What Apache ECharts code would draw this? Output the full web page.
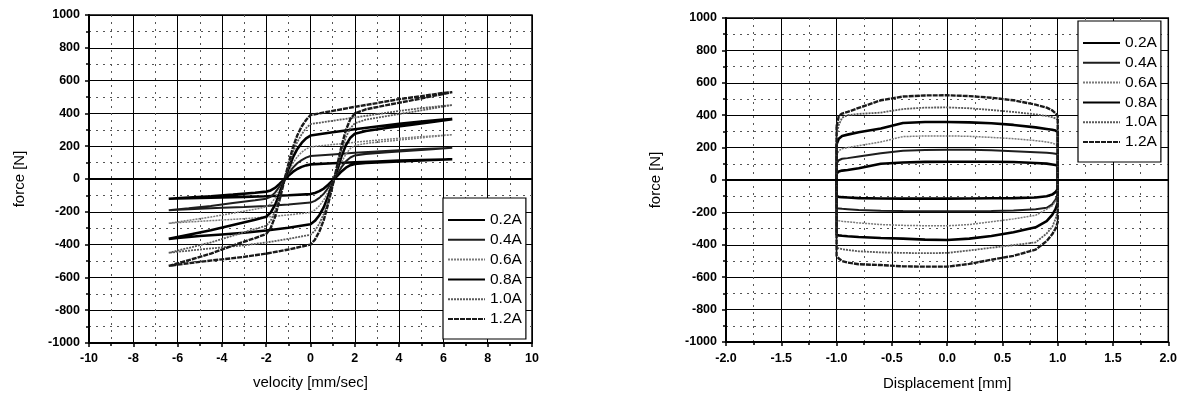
<!DOCTYPE html>
<html>
<head>
<meta charset="utf-8">
<script src="https://cdn.jsdelivr.net/npm/echarts@6.0.0/dist/echarts.min.js"></script>
<style>
  html, body { margin: 0; padding: 0; background: #fff; }
  #chart { width: 1180px; height: 396px; }
</style>
</head>
<body>
<div id="chart"></div>
<script>
const currents = ["0.2A", "0.4A", "0.6A", "0.8A", "1.0A", "1.2A"];

// force vs velocity: branch with rising velocity, then falling velocity
const velUp = [-6.4, -5.5, -4.5, -3.5, -2.5, -2.0, -1.8, -1.6, -1.4, -1.2, -1.0, -0.8, -0.6, -0.4, -0.2, 0, 1, 2, 3, 4, 5, 6, 6.4];
const velDown = [6.4, 5.5, 4.5, 3.5, 2.5, 2.0, 1.8, 1.6, 1.4, 1.2, 1.0, 0.8, 0.6, 0.4, 0.2, 0, -1, -2, -3, -4, -5, -6, -6.4];

const fvUp02 = [-120, -113, -105, -95, -84, -77, -70, -54, -30, -4, 20, 43, 61, 74, 83, 89, 96, 102, 107, 112, 116, 119, 120];
const fvUp04 = [-190, -178, -164, -147, -130, -120, -108, -83, -47, -6, 32, 68, 96, 115, 130, 140, 150, 160, 168, 176, 183, 188, 190];
const fvUp06 = [-270, -252, -232, -208, -184, -170, -152, -117, -66, -8, 45, 95, 135, 163, 183, 196, 210, 224, 237, 248, 258, 267, 270];
const fvUp08 = [-365, -340, -312, -280, -248, -230, -205, -158, -90, -12, 60, 130, 182, 220, 248, 265, 285, 303, 320, 336, 350, 362, 365];
const fvUp10 = [-450, -420, -387, -345, -305, -285, -255, -195, -110, -15, 75, 160, 225, 272, 310, 335, 355, 375, 395, 415, 432, 446, 451];
const fvUp12 = [-530, -495, -455, -405, -360, -335, -300, -230, -130, -20, 90, 190, 265, 320, 360, 390, 415, 440, 463, 487, 505, 525, 530];

const fvDown02 = [120, 116, 110, 104, 98, 92, 84, 69, 46, 18, -9, -35, -58, -74, -85, -92, -99, -105, -109, -113, -116, -119, -120];
const fvDown04 = [190, 182, 172, 163, 153, 144, 131, 108, 72, 29, -14, -54, -90, -115, -133, -144, -155, -164, -171, -176, -182, -187, -190];
const fvDown06 = [270, 258, 244, 231, 217, 204, 186, 153, 102, 41, -20, -77, -128, -163, -189, -204, -219, -232, -242, -250, -258, -266, -270];
const fvDown08 = [365, 348, 330, 312, 293, 276, 252, 207, 138, 55, -28, -104, -172, -221, -255, -276, -297, -314, -328, -338, -348, -360, -365];
const fvDown10 = [451, 430, 407, 385, 362, 340, 310, 255, 170, 68, -34, -128, -212, -272, -315, -340, -365, -387, -404, -417, -430, -444, -450];
const fvDown12 = [530, 505, 478, 452, 425, 400, 365, 300, 200, 80, -40, -150, -250, -320, -370, -400, -430, -455, -475, -490, -505, -522, -530];

// force vs displacement: stroke to +1 mm, then back to -1 mm
const dispUp = [-1.0, -0.98, -0.95, -0.9, -0.8, -0.6, -0.4, -0.2, 0, 0.2, 0.4, 0.6, 0.8, 0.9, 0.95, 0.98, 1.0];
const dispDown = [1.0, 0.98, 0.95, 0.9, 0.8, 0.6, 0.4, 0.2, 0, -0.2, -0.4, -0.6, -0.8, -0.9, -0.95, -0.98, -1.0];

const fdUp02 = [40, 52, 58, 62, 72, 100, 108, 112, 113, 113, 113, 111, 105, 101, 96, 92, 88];
const fdUp04 = [100, 122, 131, 135, 145, 165, 180, 185, 187, 186, 183, 178, 172, 168, 165, 162, 158];
const fdUp06 = [150, 180, 193, 200, 212, 235, 268, 272, 272, 270, 263, 255, 243, 235, 228, 220, 210];
const fdUp08 = [220, 255, 272, 280, 295, 318, 352, 358, 358, 356, 350, 340, 325, 315, 310, 305, 298];
const fdUp10 = [280, 340, 385, 400, 408, 416, 438, 447, 448, 443, 432, 420, 405, 395, 388, 380, 372];
const fdUp12 = [330, 395, 410, 420, 445, 492, 515, 522, 523, 518, 508, 492, 465, 447, 430, 412, 395];

const fdDown02 = [-55, -75, -90, -100, -108, -112, -113, -114, -115, -115, -115, -114, -112, -108, -106, -104, -100];
const fdDown04 = [-90, -120, -150, -172, -180, -188, -192, -193, -193, -193, -192, -190, -185, -180, -178, -176, -175];
const fdDown06 = [-100, -130, -160, -180, -218, -240, -258, -275, -283, -282, -280, -275, -265, -258, -255, -252, -250];
const fdDown08 = [-140, -180, -215, -254, -292, -322, -346, -362, -370, -368, -362, -358, -352, -347, -344, -342, -340];
const fdDown10 = [-190, -240, -290, -330, -385, -402, -418, -435, -450, -452, -450, -447, -440, -432, -427, -422, -418];
const fdDown12 = [-260, -300, -335, -377, -430, -468, -492, -518, -535, -535, -533, -525, -520, -510, -500, -485, -468];

const fvLoops = [[fvUp02, fvDown02], [fvUp04, fvDown04], [fvUp06, fvDown06], [fvUp08, fvDown08], [fvUp10, fvDown10], [fvUp12, fvDown12]];
const fdLoops = [[fdUp02, fdDown02], [fdUp04, fdDown04], [fdUp06, fdDown06], [fdUp08, fdDown08], [fdUp10, fdDown10], [fdUp12, fdDown12]];

const lineLooks = [
  { color: "#000000", width: 2.6, type: "solid" },
  { color: "#1e1e1e", width: 2, type: "solid" },
  { color: "#7a7a7a", width: 1.5, type: [2, 1] },
  { color: "#000000", width: 2.6, type: "solid" },
  { color: "#5a5a5a", width: 1.8, type: [2, 1] },
  { color: "#1a1a1a", width: 2.4, type: [5, 1] },
];

const FONT = "'Liberation Sans', Arial, sans-serif";

function loop(xUp, yUp, xDown, yDown) {
  const pts = xUp.map((x, i) => [x, yUp[i]]);
  xDown.forEach((x, i) => pts.push([x, yDown[i]]));
  pts.push(pts[0]);
  return pts;
}

function makeX(gridIndex, min, max, interval, name, nameGap, labelMargin, digits) {
  return {
    type: "value",
    gridIndex,
    min, max, interval,
    name,
    nameLocation: "middle",
    nameGap,
    nameTextStyle: { fontFamily: FONT, fontSize: 15, color: "#000" },
    axisLine: { show: true, onZero: false, lineStyle: { color: "#000", width: 2 } },
    axisTick: { show: true, inside: false, length: 4, lineStyle: { color: "#000", width: 1.5 } },
    minorTick: { show: true, splitNumber: 2, length: 3, lineStyle: { color: "#000", width: 1.5 } },
    axisLabel: {
      margin: labelMargin,
      fontFamily: FONT, fontSize: 12.5, fontWeight: "bold", color: "#000",
      formatter: (v) => (digits ? v.toFixed(digits) : String(v)),
    },
    splitLine: { show: true, lineStyle: { color: "#000", width: 1 } },
    minorSplitLine: { show: true, lineStyle: { color: "#555", width: 1, type: [2, 5] } },
  };
}

function makeY(gridIndex, nameGap) {
  return {
    type: "value",
    gridIndex,
    min: -1000, max: 1000, interval: 200,
    name: "force [N]",
    nameLocation: "middle",
    nameGap,
    nameTextStyle: { fontFamily: FONT, fontSize: 15, color: "#000" },
    axisLine: { show: true, onZero: false, lineStyle: { color: "#000", width: 2 } },
    axisTick: { show: true, inside: false, length: 4, lineStyle: { color: "#000", width: 1.5 } },
    minorTick: { show: true, splitNumber: 2, length: 3, lineStyle: { color: "#000", width: 1.5 } },
    axisLabel: {
      margin: 9, fontFamily: FONT, fontSize: 12.5, fontWeight: "bold", color: "#000",
      formatter: (v) => String(v),
    },
    splitLine: { show: true, lineStyle: { color: "#000", width: 1 } },
    minorSplitLine: { show: true, lineStyle: { color: "#555", width: 1, type: [2, 5] } },
  };
}

function makeLegend(left, top) {
  return {
    left, top,
    orient: "vertical",
    data: currents,
    itemWidth: 37,
    itemHeight: 14,
    itemGap: 3.8,
    padding: [14, 4, 12, 4],
    backgroundColor: "#fff",
    borderColor: "#000",
    borderWidth: 1.2,
    borderRadius: 0,
    itemStyle: { opacity: 0 },
    textStyle: { fontFamily: FONT, fontSize: 15.5, color: "#000" },
  };
}

const series = [];
currents.forEach((name, i) => {
  const look = lineLooks[i];
  const [up, down] = fvLoops[i];
  series.push({
    name, type: "line", xAxisIndex: 0, yAxisIndex: 0,
    data: loop(velUp, up, velDown, down),
    symbol: "none", smooth: false, z: 3,
    color: look.color,
    lineStyle: { color: look.color, width: look.width, type: look.type },
  });
});
currents.forEach((name, i) => {
  const look = lineLooks[i];
  const [up, down] = fdLoops[i];
  series.push({
    name, type: "line", xAxisIndex: 1, yAxisIndex: 1,
    data: loop(dispUp, up, dispDown, down),
    symbol: "none", smooth: false, z: 3,
    color: look.color,
    lineStyle: { color: look.color, width: look.width, type: look.type },
  });
});

// heavier zero-force lines, as in the plots
[0, 1].forEach((k) => {
  series.push({
    type: "line", xAxisIndex: k, yAxisIndex: k, data: [], silent: true, z: 2,
    markLine: {
      silent: true, symbol: "none", label: { show: false },
      lineStyle: { color: "#000", width: 2, type: "solid" },
      data: [{ yAxis: 0 }],
    },
  });
});

const chart = echarts.init(document.getElementById("chart"), null, { renderer: "canvas" });
chart.setOption({
  animation: false,
  backgroundColor: "#fff",
  grid: [
    { left: 89, top: 15, width: 443, height: 328, show: true, borderColor: "#000", borderWidth: 1.5, backgroundColor: "transparent" },
    { left: 726, top: 18, width: 443, height: 327, show: true, borderColor: "#000", borderWidth: 1.5, backgroundColor: "transparent" },
  ],
  xAxis: [
    makeX(0, -10, 10, 2, "velocity [mm/sec]", 32, 9, 0),
    makeX(1, -2, 2, 0.5, "Displacement [mm]", 34, 10, 1),
  ],
  yAxis: [makeY(0, 62), makeY(1, 63)],
  legend: [makeLegend(443, 198), makeLegend(1078, 21)],
  series,
});
</script>
</body>
</html>
